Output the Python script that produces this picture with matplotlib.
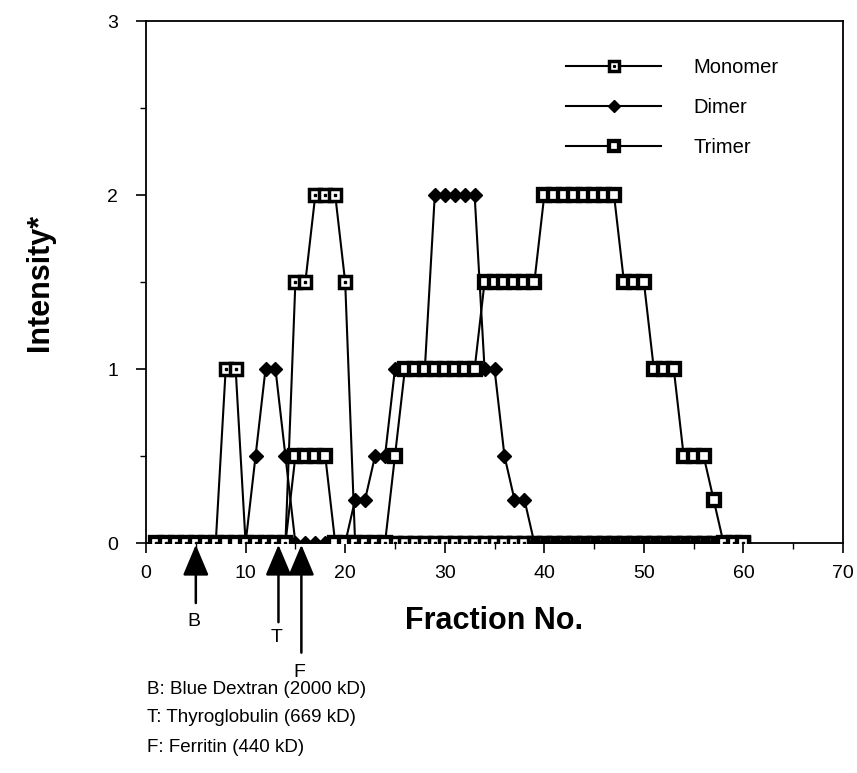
import matplotlib
matplotlib.use("Agg")
import matplotlib.pyplot as plt
from matplotlib.legend_handler import HandlerTuple

plt.rcParams["font.family"] = ["Liberation Sans", "DejaVu Sans"]

# Fraction numbers collected from the column
fractions = list(range(1, 61))

# Band intensity per fraction for each oligomeric form
monomer = [0, 0, 0, 0, 0, 0, 0, 1, 1, 0,
           0, 0, 0, 0, 1.5, 1.5, 2, 2, 2, 1.5,
           0, 0, 0, 0, 0, 0, 0, 0, 0, 0,
           0, 0, 0, 0, 0, 0, 0, 0, 0, 0,
           0, 0, 0, 0, 0, 0, 0, 0, 0, 0,
           0, 0, 0, 0, 0, 0, 0, 0, 0, 0]
dimer = [0, 0, 0, 0, 0, 0, 0, 0, 0, 0,
         0.5, 1, 1, 0.5, 0, 0, 0, 0, 0, 0,
         0.25, 0.25, 0.5, 0.5, 1, 1, 1, 1, 2, 2,
         2, 2, 2, 1, 1, 0.5, 0.25, 0.25, 0, 0,
         0, 0, 0, 0, 0, 0, 0, 0, 0, 0,
         0, 0, 0, 0, 0, 0, 0, 0, 0, 0]
trimer = [0, 0, 0, 0, 0, 0, 0, 0, 0, 0,
          0, 0, 0, 0, 0.5, 0.5, 0.5, 0.5, 0, 0,
          0, 0, 0, 0, 0.5, 1, 1, 1, 1, 1,
          1, 1, 1, 1.5, 1.5, 1.5, 1.5, 1.5, 1.5, 2,
          2, 2, 2, 2, 2, 2, 2, 1.5, 1.5, 1.5,
          1, 1, 1, 0.5, 0.5, 0.5, 0.25, 0, 0, 0]

# Elution positions of the size standards
standard_codes = ["B", "T", "F"]
standard_fractions = [5, 13.3, 15.6]
standard_names = ["Blue Dextran (2000 kD)", "Thyroglobulin (669 kD)",
                  "Ferritin (440 kD)"]

x_ticks = [0, 10, 20, 30, 40, 50, 60, 70]
y_ticks = [0, 1, 2, 3]

fig = plt.figure(figsize=(8.57, 7.73), dpi=100)
ax = fig.add_axes([0.1704, 0.2975, 0.8133, 0.6753])

lw = 1.5
mono_line, = ax.plot(fractions, monomer, color="black", lw=lw, marker="s",
                     ms=8.0, mfc="white", mec="black", mew=2.5, zorder=3)
mono_dot, = ax.plot(fractions, monomer, ls="none", marker="s", ms=1.5,
                    mfc="black", mec="black", zorder=4)
dim_line, = ax.plot(fractions, dimer, color="black", lw=lw, marker="D",
                    ms=7.5, mfc="black", mec="black", zorder=3)
tri_line, = ax.plot(fractions, trimer, color="black", lw=lw, marker="s",
                    ms=8.0, mfc="white", mec="black", mew=3.1, zorder=3)

ax.set_xlim(0, 70)
ax.set_ylim(0, 3)
ax.set_xticks(x_ticks)
ax.set_xticklabels([str(v) for v in x_ticks])
ax.set_xticks(range(5, 70, 10), minor=True)
ax.set_yticks(y_ticks)
ax.set_yticklabels([str(v) for v in y_ticks])
ax.set_yticks([0.5, 1.5, 2.5], minor=True)
ax.tick_params(axis="both", which="major", direction="out", length=7,
               width=1.2, labelsize=14, pad=9)
ax.tick_params(axis="both", which="minor", direction="out", length=4,
               width=1.0)
ax.tick_params(axis="y", pad=13)
for sp in ax.spines.values():
    sp.set_linewidth(1.3)

ax.set_ylabel("Intensity*", fontsize=22, fontweight="bold", labelpad=38)
ax.text(35.0, -0.45, "Fraction No.", fontsize=22, fontweight="bold",
        ha="center", va="center", clip_on=False)

leg = ax.legend([(mono_line, mono_dot), dim_line, tri_line],
                ["Monomer", "Dimer", "Trimer"],
                handler_map={tuple: HandlerTuple(ndivide=1, pad=0)},
                loc="upper left", bbox_to_anchor=(0.603, 0.93),
                frameon=False, fontsize=14.5, handlelength=4.7,
                handletextpad=1.6, labelspacing=1.05, borderpad=0,
                borderaxespad=0, markerscale=0.85)

# Arrows marking where each standard eluted
tails = [-0.345, -0.455, -0.63]
label_y = [-0.45, -0.545, -0.745]
for code, frac, ty, ly in zip(standard_codes, standard_fractions, tails, label_y):
    ax.annotate("", xy=(frac, -0.01), xytext=(frac, ty),
                arrowprops=dict(arrowstyle="-|>,head_length=0.95,head_width=0.4",
                                color="black", lw=1.8, mutation_scale=20,
                                shrinkA=0, shrinkB=0),
                annotation_clip=False)
    ax.text(frac - 0.2, ly, code, fontsize=14, ha="center", va="center",
            clip_on=False)

for i, (code, name) in enumerate(zip(standard_codes, standard_names)):
    fig.text(147 / 857, 1 - (689 + 29 * i) / 773, f"{code}: {name}",
             fontsize=13.5, ha="left", va="center")

fig.savefig("out.png", dpi=100)
